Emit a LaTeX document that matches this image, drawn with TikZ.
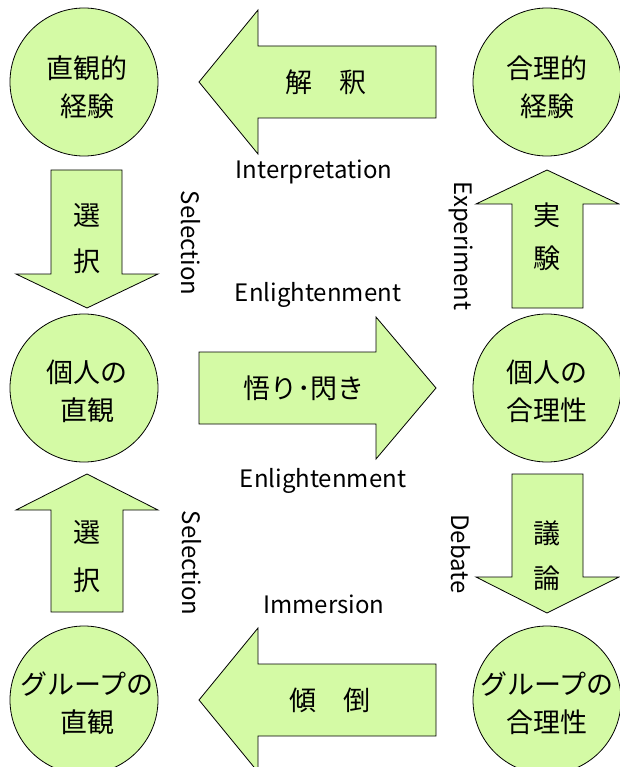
\documentclass[tikz,border=0pt]{standalone}
\usepackage{fontspec}
\setmainfont{Noto Sans CJK JP}
\definecolor{lgreen}{RGB}{212,250,165}
\tikzset{
  shapefill/.style={fill=lgreen, draw=black, line width=0.8pt, line join=miter},
  bubble/.style={circle, shapefill, minimum size=148pt, inner sep=0pt},
  jp/.style={font=\fontsize{27}{30}\selectfont, inner sep=0pt},
  en/.style={font=\fontsize{24}{28}\selectfont, inner sep=0pt},
}
\begin{document}
\begin{tikzpicture}[x=1pt,y=-1pt]
\useasboundingbox[fill=white] (0,0) rectangle (620,767);
% circles
\node[bubble] (c1) at (84,82) {};
\node[bubble] (c2) at (547,82) {};
\node[bubble] (c3) at (84,388) {};
\node[bubble] (c4) at (547,388) {};
\node[bubble] (c5) at (84,700) {};
\node[bubble] (c6) at (547,700) {};
% horizontal block arrows
\path[shapefill] (199,82) -- (258,10) -- (258,46) -- (436,46) -- (436,118) -- (258,118) -- (258,154) -- cycle;
\path[shapefill] (436,388) -- (376,317) -- (376,352) -- (199,352) -- (199,424) -- (376,424) -- (376,459) -- cycle;
\path[shapefill] (199,700) -- (258,628) -- (258,664) -- (436,664) -- (436,736) -- (258,736) -- (258,772) -- cycle;
% vertical block arrows
\path[shapefill] (87,308) -- (16,274) -- (51,274) -- (51,170) -- (122,170) -- (122,274) -- (158,274) -- cycle;
\path[shapefill] (547,170) -- (476,204) -- (512,204) -- (512,308) -- (583,308) -- (583,204) -- (619,204) -- cycle;
\path[shapefill] (87,474) -- (16,510) -- (51,510) -- (51,612) -- (123,612) -- (123,510) -- (158,510) -- cycle;
\path[shapefill] (547,613) -- (476,577) -- (512,577) -- (512,474) -- (583,474) -- (583,577) -- (619,577) -- cycle;
% circle texts
\node[jp] (t1a) at (87,68) {直観的};
\node[jp] (t1b) at (87,106) {経験};
\node[jp] (t2a) at (547,68) {合理的};
\node[jp] (t2b) at (547,106) {経験};
\node[jp] (t3a) at (87,372) {個人の};
\node[jp] (t3b) at (87,410) {直観};
\node[jp] (t4a) at (547,372) {個人の};
\node[jp] (t4b) at (547,410) {合理性};
\node[jp] (t5a) at (87,684) {グループの};
\node[jp] (t5b) at (87,722) {直観};
\node[jp] (t6a) at (547,684) {グループの};
\node[jp] (t6b) at (547,722) {合理性};
% arrow texts
\node[jp] (a1) at (326,82) {解　釈};
\node[jp] (a2) at (304,388) {悟り･閃き};
\node[jp] (a3) at (330,700) {傾　倒};
\node[jp] (v1a) at (87,215) {選};
\node[jp] (v1b) at (87,261) {択};
\node[jp] (v2a) at (547,215) {実};
\node[jp] (v2b) at (547,258) {験};
\node[jp] (v3a) at (87,532) {選};
\node[jp] (v3b) at (87,580) {択};
\node[jp] (v4a) at (547,533) {議};
\node[jp] (v4b) at (547,578) {論};
% english labels
\node[en] (e1) at (314,172) {Interpretation};
\node[en] (e2) at (318,295) {Enlightenment};
\node[en] (e3) at (323,481) {Enlightenment};
\node[en] (e4) at (324,604) {Immersion};
\node[en, rotate=-90] (e5) at (191,243) {Selection};
\node[en, rotate=-90] (e6) at (192,563) {Selection};
\node[en, rotate=-90] (e7) at (461,246) {Experiment};
\node[en, rotate=-90] (e8) at (461,554) {Debate};
\end{tikzpicture}
\end{document}
